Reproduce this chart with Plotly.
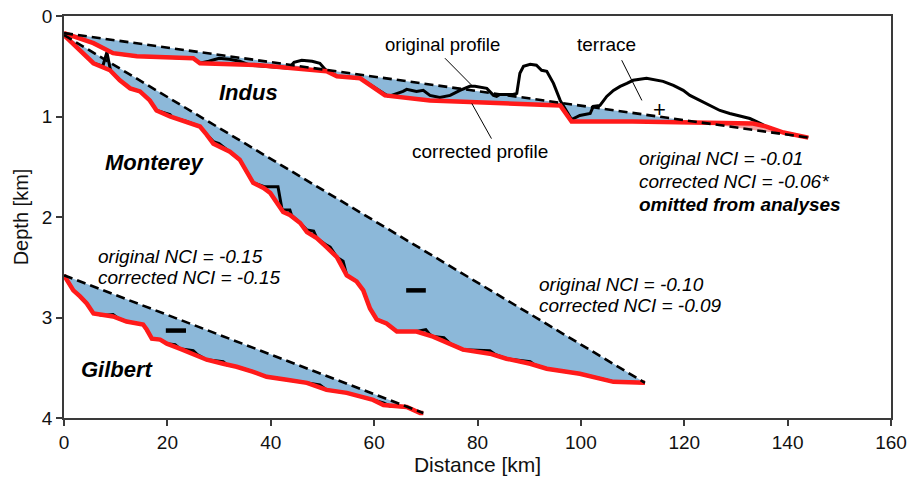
import numpy as np
import plotly.graph_objects as go

# ---------------- data (distance km, depth km) ----------------
indus_corr_x = [0, 5.7, 9.5, 14.1, 25.0, 26.3, 37.9, 50.8, 52.8, 57.3, 62.1, 70.8, 96.0, 98.2, 110.0, 122.0, 133.3, 135.9, 139.2, 144.0]
indus_corr_d = [0.17, 0.27, 0.37, 0.40, 0.42, 0.47, 0.49, 0.55, 0.60, 0.62, 0.79, 0.84, 0.89, 1.05, 1.05, 1.06, 1.07, 1.10, 1.16, 1.21]

indus_orig_x = [0, 5.7, 9.5, 14.1, 25.0, 26.3, 28.0, 30.0, 32.0, 34.0, 36.0, 43.5, 44.5, 46.0, 48.0, 49.5, 50.5, 52.8, 57.3, 62.8,
                65.6, 66.3, 68.2, 69.5, 70.8, 72.7, 74.7, 76.6, 78.5, 79.5, 81.8, 83.1, 83.7, 84.3, 86.9, 87.6,
                88.2, 88.9, 90.2, 91.4, 92.4, 93.4, 94.7, 96.0, 98.2,
                99.8, 101.8, 102.4, 103.7, 105.0, 106.3, 107.6, 108.9, 110.1, 112.7, 114.0, 115.9, 117.9, 119.8,
                121.1, 123.0, 124.3, 126.9, 128.8, 132.7, 134.0, 135.9, 139.2, 144.0]
indus_orig_d = [0.17, 0.27, 0.37, 0.40, 0.42, 0.47, 0.45, 0.42, 0.43, 0.45, 0.49, 0.52, 0.46, 0.44, 0.45, 0.47, 0.53, 0.60, 0.62, 0.80,
                0.75, 0.73, 0.75, 0.74, 0.79, 0.81, 0.79, 0.74, 0.70, 0.70, 0.72, 0.79, 0.80, 0.78, 0.78, 0.77,
                0.57, 0.50, 0.48, 0.49, 0.54, 0.55, 0.67, 0.84, 1.03,
                0.99, 0.97, 0.90, 0.89, 0.80, 0.74, 0.70, 0.67, 0.64, 0.62, 0.63, 0.65, 0.69, 0.74,
                0.79, 0.84, 0.87, 0.94, 0.97, 1.02, 1.05, 1.10, 1.16, 1.21]

mont_corr_x = [0, 3.1, 5.7, 8.9, 10.8, 12.8, 14.7, 16.6, 17.9, 20.5, 23.7, 26.3, 27.6, 28.9, 32.1, 34.0, 36.6, 38.6, 39.9, 41.1,
               42.4, 43.7, 45.7, 47.0, 48.9, 50.8, 52.8, 54.7, 56.6, 57.9, 59.2, 60.5, 62.4, 64.4, 68.2, 71.4, 74.7, 77.2,
               82.4, 85.6, 90.2, 93.4, 99.8, 106.3, 112.4]
mont_corr_d = [0.19, 0.34, 0.47, 0.54, 0.64, 0.72, 0.75, 0.84, 0.94, 1.00, 1.05, 1.10, 1.18, 1.27, 1.35, 1.43, 1.66, 1.71, 1.76, 1.86,
               1.95, 1.98, 2.06, 2.15, 2.21, 2.30, 2.40, 2.58, 2.64, 2.73, 2.91, 3.02, 3.06, 3.14, 3.14, 3.19, 3.26, 3.32,
               3.36, 3.41, 3.46, 3.51, 3.56, 3.64, 3.65]

mont_orig_x = [0, 3.1, 5.7, 7.5, 8.3, 9.0, 10.8, 12.8, 14.7, 16.6, 17.9, 20.5, 21.0, 23.7, 26.3, 27.6, 28.9, 30.0, 32.1, 34.0,
               36.6, 38.9, 41.4, 42.2, 43.7, 44.0, 45.7, 47.0, 48.3, 48.9, 50.8, 51.5, 52.8, 54.0, 54.7, 56.6, 57.9, 59.2,
               60.5, 62.4, 64.4, 68.2, 70.0, 70.8, 71.4, 73.5, 74.7, 77.2, 82.4, 83.5, 85.6, 90.2, 91.0, 93.4, 99.8, 106.3, 112.4]
mont_orig_d = [0.19, 0.34, 0.47, 0.50, 0.36, 0.54, 0.64, 0.72, 0.75, 0.84, 0.94, 0.98, 1.01, 1.05, 1.10, 1.18, 1.25, 1.27, 1.35, 1.43,
               1.66, 1.70, 1.70, 1.93, 1.93, 1.98, 2.06, 2.13, 2.14, 2.21, 2.28, 2.30, 2.40, 2.44, 2.58, 2.64, 2.73, 2.91,
               3.02, 3.06, 3.14, 3.14, 3.12, 3.17, 3.19, 3.20, 3.26, 3.32, 3.33, 3.37, 3.41, 3.44, 3.47, 3.51, 3.56, 3.64, 3.65]

gil_corr_x = [0, 1.8, 3.1, 4.4, 5.7, 7.6, 9.5, 12.1, 15.3, 16.0, 17.0, 18.6, 19.9, 22.4, 25.0, 27.6, 30.8, 33.4, 36.6, 39.2,
              43.1, 47.0, 50.8, 54.7, 59.8, 61.8, 66.3, 68.9, 69.5]
gil_corr_d = [2.58, 2.73, 2.79, 2.86, 2.96, 2.98, 2.99, 3.04, 3.07, 3.12, 3.21, 3.22, 3.26, 3.31, 3.36, 3.42, 3.46, 3.49, 3.54, 3.59,
              3.62, 3.65, 3.72, 3.75, 3.82, 3.87, 3.89, 3.95, 3.95]

gil_orig_x = [0, 1.8, 3.1, 4.4, 5.7, 7.6, 9.5, 10.5, 12.1, 15.3, 16.0, 17.0, 18.6, 19.9, 21.5, 22.4, 25.0, 25.8, 27.6, 30.8,
              31.5, 33.4, 36.6, 39.2, 43.1, 47.0, 49.5, 50.8, 54.7, 59.8, 61.8, 63.0, 66.3, 68.9, 69.5]
gil_orig_d = [2.58, 2.73, 2.79, 2.86, 2.96, 2.98, 2.97, 3.01, 3.04, 3.07, 3.12, 3.21, 3.22, 3.26, 3.27, 3.31, 3.33, 3.37, 3.42, 3.44,
              3.47, 3.49, 3.54, 3.59, 3.62, 3.65, 3.67, 3.72, 3.75, 3.82, 3.85, 3.88, 3.89, 3.95, 3.95]

x_ticks = [0, 20, 40, 60, 80, 100, 120, 140, 160]
y_ticks = [0, 1, 2, 3, 4]

BLUE = "#8cb8d9"
PINK = "#f4a3a3"
RED = "#ff1a1a"
FONT = "Arial, Liberation Sans, sans-serif"


def split_fill(xs, ds):
    """Split area between profile and straight start-end line into concave/convex parts."""
    xs = np.asarray(xs, float)
    ds = np.asarray(ds, float)
    x0, d0, x1, d1 = xs[0], ds[0], xs[-1], ds[-1]
    line = lambda x: d0 + (x - x0) * (d1 - d0) / (x1 - x0)
    diff = ds - line(xs)
    polys = []
    cur_x, cur_d, cur_s = [xs[0]], [ds[0]], 0
    for i in range(1, len(xs)):
        s_prev, s_now = np.sign(diff[i - 1]), np.sign(diff[i])
        if s_prev != 0 and s_now != 0 and s_prev != s_now:
            t = diff[i - 1] / (diff[i - 1] - diff[i])
            xc = xs[i - 1] + t * (xs[i] - xs[i - 1])
            dc = ds[i - 1] + t * (ds[i] - ds[i - 1])
            cur_x.append(xc)
            cur_d.append(dc)
            polys.append((cur_x, cur_d, s_prev))
            cur_x, cur_d = [xc], [dc]
        cur_x.append(xs[i])
        cur_d.append(ds[i])
        if s_now != 0:
            cur_s = s_now
    polys.append((cur_x, cur_d, cur_s if cur_s != 0 else 1))
    return polys


fig = go.Figure()

profiles = [
    (indus_corr_x, indus_corr_d, indus_orig_x, indus_orig_d),
    (mont_corr_x, mont_corr_d, mont_orig_x, mont_orig_d),
    (gil_corr_x, gil_corr_d, gil_orig_x, gil_orig_d),
]

for cx, cd, ox, od in profiles:
    for px, pd, s in split_fill(cx, cd):
        fig.add_trace(go.Scatter(x=px, y=pd, mode="lines", fill="toself",
                                 fillcolor=BLUE if s > 0 else PINK,
                                 line=dict(width=0), hoverinfo="skip", showlegend=False))
for cx, cd, ox, od in profiles:
    fig.add_trace(go.Scatter(x=ox, y=od, mode="lines", line=dict(color="black", width=3),
                             hoverinfo="skip", showlegend=False))
for cx, cd, ox, od in profiles:
    fig.add_trace(go.Scatter(x=cx, y=cd, mode="lines", line=dict(color=RED, width=4.5),
                             hoverinfo="skip", showlegend=False))
for cx, cd, ox, od in profiles:
    fig.add_trace(go.Scatter(x=[cx[0], cx[-1]], y=[cd[0], cd[-1]], mode="lines",
                             line=dict(color="black", width=2.6, dash="9px,5px"),
                             hoverinfo="skip", showlegend=False))

ann = []


def txt(x, y, s, size=19, xanchor="center", color="black"):
    ann.append(dict(x=x, y=y, text=s, showarrow=False, xanchor=xanchor, yanchor="middle",
                    font=dict(family=FONT, size=size, color=color)))


txt(35.6, 0.76, "<b><i>Indus</i></b>", 22)
txt(17.6, 1.46, "<b><i>Monterey</i></b>", 22)
txt(10.4, 3.52, "<b><i>Gilbert</i></b>", 22)
txt(73.3, 0.28, "original profile", 18.5)
txt(105.0, 0.28, "terrace", 19)
txt(80.5, 1.35, "corrected profile", 19)

txt(110.9, 1.42, "<i>original NCI = -0.01</i>", 19, "left")
txt(110.9, 1.65, "<i>corrected NCI = -0.06*</i>", 19, "left")
txt(110.9, 1.88, "<b><i>omitted from analyses</i></b>", 19, "left")
txt(6.2, 2.39, "<i>original NCI = -0.15</i>", 19, "left")
txt(6.2, 2.60, "<i>corrected NCI = -0.15</i>", 19, "left")
txt(91.5, 2.67, "<i>original NCI = -0.10</i>", 19, "left")
txt(91.5, 2.88, "<i>corrected NCI = -0.09</i>", 19, "left")
txt(115.3, 0.93, "+", 22)

shapes = [
    dict(type="line", x0=73.7, y0=0.42, x1=78.9, y1=0.69, line=dict(color="black", width=1)),
    dict(type="line", x0=78.9, y0=0.87, x1=82.7, y1=1.22, line=dict(color="black", width=1)),
    dict(type="line", x0=107.9, y0=0.44, x1=111.8, y1=0.84, line=dict(color="black", width=1)),
    dict(type="line", x0=66.2, y0=2.73, x1=70.0, y1=2.73, line=dict(color="black", width=4.5)),
    dict(type="line", x0=19.7, y0=3.13, x1=23.6, y1=3.13, line=dict(color="black", width=4.5)),
]

axis_common = dict(showgrid=False, zeroline=False, showline=True, linecolor="#3a3a3a", linewidth=1.5,
                   mirror=True, ticks="outside", ticklen=6, tickwidth=1.5, tickcolor="#3a3a3a",
                   automargin=False,
                   tickfont=dict(family=FONT, size=19, color="#111"))

fig.update_layout(
    width=912, height=481,
    margin=dict(l=64, r=21, t=16, b=63),
    paper_bgcolor="white", plot_bgcolor="white",
    showlegend=False,
    annotations=ann, shapes=shapes,
    xaxis=dict(range=[0, 160], tickvals=x_ticks, ticktext=[str(v) for v in x_ticks],
               title=dict(text="Distance [km]", font=dict(family=FONT, size=21, color="#111"), standoff=4),
               **axis_common),
    yaxis=dict(range=[4, 0], tickvals=y_ticks, ticktext=[str(v) for v in y_ticks],
               title=dict(text="Depth [km]", font=dict(family=FONT, size=20, color="#111"), standoff=8),
               **axis_common),
)

fig.write_html("out.html")
